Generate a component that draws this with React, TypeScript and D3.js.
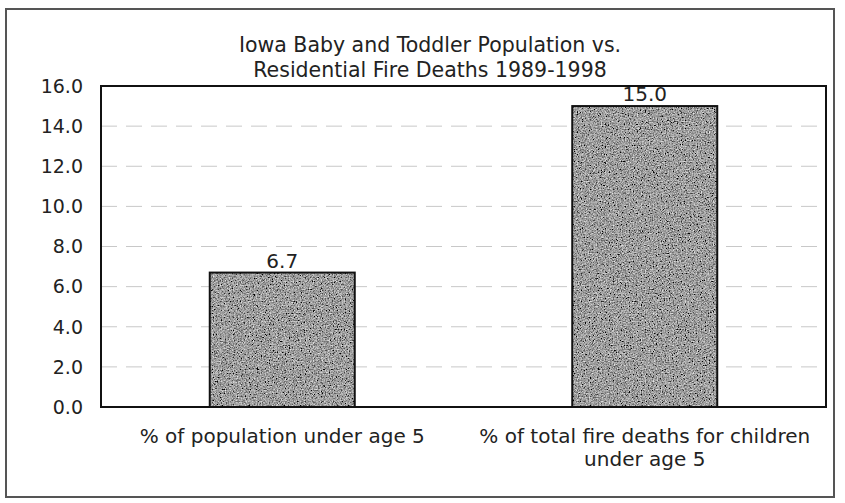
import * as d3 from 'd3'

// chart data
const categories = ['% of population under age 5', '% of total fire deaths for children under age 5']
const categoryLines = [['% of population under age 5'], ['% of total fire deaths for children', 'under age 5']]
const values = [6.7, 15.0]
const valueLabels = ['6.7', '15.0']
const yTicks = [0, 2, 4, 6, 8, 10, 12, 14, 16]
const titleLines = ['Iowa Baby and Toddler Population vs.', 'Residential Fire Deaths 1989-1998']

const W = 845, H = 503
const margin = {top: 86, right: 19, bottom: 96, left: 101}
const font = '"DejaVu Sans", Verdana, sans-serif'

function App() {
  const x = d3.scaleBand<string>()
    .domain(categories)
    .range([margin.left, W - margin.right])
    .paddingInner(0.6)
    .paddingOuter(0.3)
  const y = d3.scaleLinear()
    .domain([0, 16])
    .range([H - margin.bottom, margin.top])

  const plotW = W - margin.right - margin.left

  return (
    <svg width={W} height={H} style={{position: 'absolute', left: 0, top: 0, background: '#fff'}}>
      <defs>
        <filter id="grain" x="0" y="0" width="1" height="1">
          <feTurbulence type="fractalNoise" baseFrequency="0.75" numOctaves="2" seed="7" result="noise" />
          <feColorMatrix in="noise" type="matrix"
            values="0.33 0.33 0.33 0 0  0.33 0.33 0.33 0 0  0.33 0.33 0.33 0 0  0 0 0 0 1" result="gray" />
          <feComponentTransfer in="gray" result="contrast">
            <feFuncR type="linear" slope="2.3" intercept="-0.8" />
            <feFuncG type="linear" slope="2.3" intercept="-0.8" />
            <feFuncB type="linear" slope="2.3" intercept="-0.8" />
          </feComponentTransfer>
          <feComposite in="contrast" in2="SourceGraphic" operator="in" />
        </filter>
      </defs>

      {/* outer frame */}
      <rect x={6} y={9} width={828} height={488} fill="none" stroke="#555" strokeWidth={2} />

      {/* title */}
      <text x={430} y={52} textAnchor="middle" fontFamily={font} fontSize={20.5} fill="#222">
        {titleLines.map((t, i) => (
          <tspan key={i} x={430} dy={i === 0 ? 0 : 25}>{t}</tspan>
        ))}
      </text>

      {/* gridlines */}
      {yTicks.slice(1, -1).map(t => (
        <line key={t} x1={margin.left} x2={margin.left + plotW} y1={y(t)} y2={y(t)}
          stroke="#c8c8c8" strokeWidth={1} strokeDasharray="16 9" />
      ))}

      {/* plot frame */}
      <rect x={margin.left} y={margin.top} width={plotW} height={y(0) - margin.top}
        fill="none" stroke="#111" strokeWidth={2} />

      {/* y axis labels */}
      {yTicks.map(t => (
        <text key={t} x={margin.left - 18} y={y(t)} dy="0.36em" textAnchor="end"
          fontFamily={font} fontSize={19} fill="#222">{t.toFixed(1)}</text>
      ))}

      {/* bars */}
      {categories.map((c, i) => (
        <g key={c}>
          <rect x={x(c)} y={y(values[i])} width={x.bandwidth()} height={y(0) - y(values[i])}
            fill="#888" filter="url(#grain)" />
          <rect x={x(c)} y={y(values[i])} width={x.bandwidth()} height={y(0) - y(values[i])}
            fill="none" stroke="#111" strokeWidth={2} />
          <text x={(x(c) as number) + x.bandwidth() / 2} y={y(values[i]) - 5} textAnchor="middle"
            fontFamily={font} fontSize={20} fill="#222">{valueLabels[i]}</text>
        </g>
      ))}

      {/* x axis labels */}
      {categories.map((c, i) => (
        <text key={c} x={(x(c) as number) + x.bandwidth() / 2} y={443} textAnchor="middle"
          fontFamily={font} fontSize={20} fill="#222">
          {categoryLines[i].map((l, j) => (
            <tspan key={j} x={(x(c) as number) + x.bandwidth() / 2} dy={j === 0 ? 0 : 23}>{l}</tspan>
          ))}
        </text>
      ))}
    </svg>
  )
}

export default App
